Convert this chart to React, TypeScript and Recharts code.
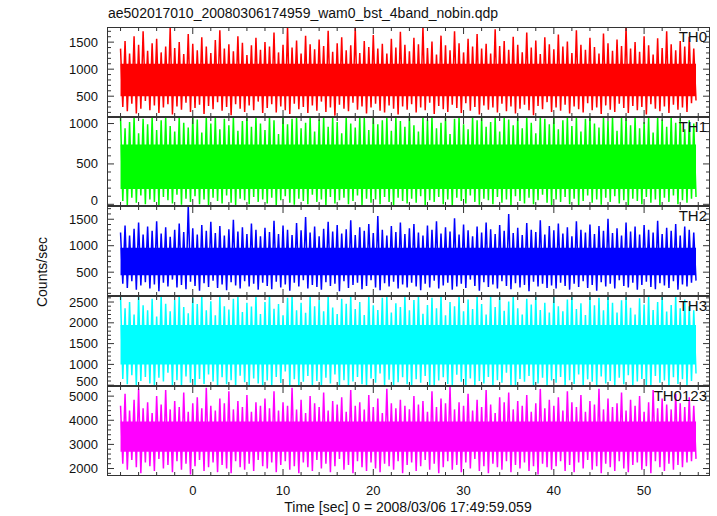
import React from 'react';
import { ComposedChart, Area, Line, XAxis, YAxis } from 'recharts';

// light curve envelopes read per half second from t = -8 s: hi at t, lo at t + 0.25 s
const T_START = -8;
const T_STEP = 0.5;

const th0Hi = [
  1380,1520,1290,1610,1450,1700,1340,1480,1560,1310,1420,1760,1390,1500,1280,1650,1470,1350,1590,1420,1300,1540,1720,1380,1460,1330,1610,1490,1260,1440,1580,1360,
  1500,1420,1680,1310,1450,1780,1400,1530,1290,1620,1460,1370,1550,1430,1710,1320,1480,1590,1350,1440,1760,1300,1520,1410,1630,1380,1470,1290,1560,1400,1690,1450,
  1330,1580,1460,1780,1390,1510,1270,1620,1440,1350,1700,1480,1310,1560,1420,1650,1380,1470,1290,1740,1430,1520,1360,1600,1450,1310,1680,1400,1530,1280,1590,1460,
  1370,1640,1420,1510,1300,1720,1450,1360,1580,1410,1290,1660,1480,1340,1550,1430,1780,1380,1500,1320,1610,1440,1270,1570,1390,1700,1460,1350,1520,1420,1600,1380,
];
const th0Lo = [
  300,220,360,180,270,410,240,330,190,290,350,160,310,250,380,210,280,340,170,320,260,390,230,300,150,350,270,210,330,240,400,190,
  280,350,200,310,240,170,360,260,300,190,330,230,400,210,290,140,340,270,220,380,250,310,180,290,360,230,200,330,270,160,310,250,
  350,200,290,240,380,170,320,260,210,340,280,190,370,230,300,160,330,250,290,200,360,220,310,180,270,340,240,150,320,260,390,210,
  290,230,340,180,310,260,200,370,240,290,170,330,250,210,360,280,190,320,240,300,160,350,270,220,310,190,340,250,290,210,370,420,
];

const th1Hi = [
  1081,940,1020,1081,880,1060,990,1081,920,1040,1081,970,900,1081,1010,950,1081,1050,890,1081,1000,1081,930,1060,980,1081,910,1030,1081,960,1081,1000,
  920,1081,1040,870,1081,990,1060,1081,940,1010,1081,900,1050,1081,960,1081,1020,880,1081,1000,950,1081,1070,920,1081,990,1040,1081,910,1081,1030,960,
  1081,980,900,1081,1050,1081,940,1010,1081,870,1060,1081,990,930,1081,1040,1081,960,1020,1081,900,1081,1050,980,1081,940,1081,1010,880,1081,1060,990,
  1081,930,1040,1081,970,1081,900,1060,1081,1000,950,1081,1030,1081,910,1070,1081,980,1081,940,1020,1081,890,1081,1050,960,1081,1010,1081,930,1040,1000,
];
const th1Lo = [
  40,-10,80,20,110,0,60,30,-15,90,50,10,120,-5,70,30,100,0,60,-20,80,40,10,110,20,-10,70,50,0,90,30,60,
  10,80,-15,50,100,20,-5,70,40,0,120,30,60,-20,90,10,50,80,0,40,110,-10,70,20,60,0,90,30,-15,80,40,10,
  70,20,100,-10,50,30,90,0,60,-20,80,40,10,110,30,-5,70,50,0,90,20,60,-15,100,40,10,80,0,50,120,20,-10,
  60,30,90,0,70,-15,40,110,20,60,-5,80,30,100,10,50,-20,70,40,0,90,20,60,-10,80,30,110,0,50,20,70,90,
];

const th2Hi = [
  1250,1380,1190,1320,1440,1210,1360,1280,1460,1230,1350,1170,1300,1420,1260,1750,1330,1210,1390,1280,1450,1240,1370,1190,1310,1490,1270,1350,1220,1420,1300,1180,
  1340,1260,1470,1220,1380,1300,1200,1430,1290,1540,1250,1360,1180,1320,1450,1270,1390,1230,1310,1480,1200,1350,1280,1410,1240,1560,1300,1190,1370,1260,1440,1220,
  1330,1410,1250,1190,1380,1300,1460,1230,1350,1270,1520,1210,1400,1290,1180,1360,1250,1440,1310,1220,1390,1280,1600,1240,1340,1200,1430,1300,1260,1480,1210,1370,
  1290,1420,1230,1350,1180,1460,1300,1250,1400,1220,1370,1280,1510,1240,1330,1190,1440,1270,1360,1210,1390,1300,1250,1470,1220,1340,1280,1410,1190,1360,1300,1250,
];
const th2Lo = [
  280,200,330,170,250,310,190,270,140,300,230,360,210,260,180,320,240,150,290,220,340,200,270,160,310,250,190,330,230,280,170,300,
  240,180,320,210,270,150,300,230,350,190,260,220,170,310,240,280,140,330,200,260,300,180,240,350,210,160,290,230,320,190,270,210,
  300,230,160,280,210,340,190,250,300,170,230,280,200,360,240,150,310,220,270,190,330,240,180,290,210,260,140,320,230,280,200,250,
  190,300,240,170,280,220,330,200,260,150,310,230,280,190,350,240,210,300,170,260,320,220,180,290,250,200,330,170,270,230,300,340,
];

const th3Hi = [
  2645,2350,2500,2200,2645,2420,2300,2580,2150,2645,2460,2280,2550,2645,2380,2230,2600,2450,2645,2300,2520,2180,2645,2400,2320,2580,2645,2260,2480,2390,2645,2210,
  2500,2645,2340,2450,2180,2600,2645,2300,2480,2240,2645,2400,2550,2280,2645,2370,2210,2580,2460,2645,2330,2500,2190,2645,2420,2310,2600,2645,2250,2470,2380,2645,
  2300,2550,2645,2220,2430,2600,2350,2645,2180,2500,2400,2645,2280,2560,2330,2645,2450,2200,2620,2380,2645,2290,2510,2645,2350,2200,2580,2440,2645,2310,2480,2250,
  2645,2400,2280,2560,2645,2330,2470,2190,2645,2420,2600,2300,2645,2480,2250,2540,2645,2360,2200,2590,2440,2645,2310,2500,2645,2270,2430,2645,2350,2560,2400,2300,
];
const th3Lo = [
  650,520,740,480,600,700,540,480,680,590,800,500,620,480,710,560,480,650,530,760,590,480,690,520,620,480,730,570,500,660,540,480,
  610,480,700,550,830,500,640,480,580,720,490,600,480,680,540,760,500,620,480,590,700,520,480,660,560,780,500,630,480,570,690,520,
  480,640,560,720,500,480,610,690,530,480,750,580,500,660,480,600,540,700,480,620,560,800,500,480,650,580,720,480,540,680,500,610,
  560,700,480,620,530,760,490,640,580,480,710,540,600,480,680,520,740,480,590,650,500,480,720,560,610,480,690,530,640,500,600,780,
];

const th0123Hi = [
  4600,5100,4400,4850,5300,4500,4750,4300,5000,4650,5250,4450,4800,4550,5150,4350,4700,4950,4500,5350,4600,4400,4900,4700,5200,4450,4800,4550,5050,4350,4750,4600,
  4900,4500,5200,4400,4750,4600,5350,4450,4850,4300,5000,4700,4550,5150,4400,4800,4650,4950,4350,5250,4600,4750,4450,5050,4550,4900,4300,5300,4700,4500,4850,4600,
  4450,5000,4650,4800,4350,5200,4550,4900,4700,5380,4450,4750,4600,5100,4400,4850,4550,5250,4650,4300,4950,4750,5150,4450,4800,4600,5050,4350,4700,5300,4500,4850,
  4600,4950,4400,5200,4750,4550,5050,4350,4800,4650,5300,4450,4900,4550,4700,5150,4400,4850,4600,5000,4350,4750,5250,4500,4900,4650,4450,5100,4700,4550,4950,4600,
];
const th0123Lo = [
  2200,1950,2350,2050,1800,2250,2100,1900,2400,2000,2150,1850,2300,1950,2200,1750,2100,2350,1900,2050,2250,1850,2150,2000,1800,2300,2050,1950,2200,1900,2350,2100,
  2000,2250,1850,2150,2300,1950,2100,1800,2250,2050,1900,2350,2000,2200,1850,2100,2400,1950,2150,1800,2300,2050,1900,2250,2000,1850,2200,2100,1950,2300,1800,2150,
  2250,1900,2100,2350,1950,2200,1800,2050,2300,1950,2150,1850,2250,2000,2400,1900,2100,1800,2200,2050,1950,2300,1850,2150,2000,2250,1900,2100,1750,2200,2050,1950,
  2100,2300,1900,2150,1850,2250,2000,2350,1950,2100,1800,2200,2050,1900,2300,2000,1850,2150,2250,1950,2100,1800,2300,2050,1900,2200,1950,2150,2050,2250,2300,2400,
];

// dense core of each band [low, high]
const th0Core = [500, 1100];
const th1Core = [190, 740];
const th2Core = [440, 960];
const th3Core = [1000, 1950];
const th0123Core = [2700, 3950];

const th0Ticks = [500, 1000, 1500];
const th1Ticks = [0, 500, 1000];
const th2Ticks = [500, 1000, 1500];
const th3Ticks = [500, 1000, 1500, 2000, 2500];
const th0123Ticks = [2000, 3000, 4000, 5000];
const timeTicks = [0, 10, 20, 30, 40, 50];

const X_DOMAIN: [number, number] = [-9.5, 57.3];
const W = 717;
const PL = 107;
const PR = 710;
const PAD = 12;
const XLAB = 30;
const FONT = '"Liberation Sans", Arial, sans-serif';

const minorTimeTicks: number[] = [];
for (let t = -8; t <= 56; t += 2) minorTimeTicks.push(t);

interface PanelProps {
  top: number;
  height: number;
  hi: number[];
  lo: number[];
  core: number[];
  domain: [number, number];
  ticks: number[];
  minorStep: number;
  color: string;
  label: string;
  showX?: boolean;
}

const Panel = ({ top, height, hi, lo, core, domain, ticks, minorStep, color, label, showX }: PanelProps) => {
  const data: any[] = [];
  hi.forEach((h, i) => {
    const t = T_START + i * T_STEP;
    data.push({ t, v: h, core });
    if (lo[i] !== undefined) data.push({ t: t + T_STEP / 2, v: lo[i], core });
  });

  const yTicks: number[] = [];
  for (let v = Math.ceil(domain[0] / minorStep) * minorStep; v <= domain[1]; v += minorStep) yTicks.push(v);

  const plotTop = PAD;
  const plotBottom = PAD + height;
  const extra = showX ? XLAB : 0;
  const chartH = height + PAD * 2 + extra;

  const YTick = (props: any) => {
    const { y, payload } = props;
    const major = ticks.includes(payload.value);
    const len = major ? 7 : 4;
    // labels sitting on a panel edge are nudged inward so neighbours don't collide
    let dy = 4.5;
    if (y > plotBottom - 4) dy = 1;
    if (y < plotTop + 4) dy = 6;
    return (
      <g>
        <line x1={PL} x2={PL + len} y1={y} y2={y} stroke="#333" strokeWidth={1} />
        <line x1={PR - len} x2={PR} y1={y} y2={y} stroke="#333" strokeWidth={1} />
        {major && (
          <text x={PL - 9} y={y} dy={dy} textAnchor="end" fontSize={13} fontFamily={FONT} fill="#111">
            {payload.value}
          </text>
        )}
      </g>
    );
  };

  const XTick = (props: any) => {
    const { x, payload } = props;
    const major = payload.value % 10 === 0;
    const len = major ? 7 : 4;
    return (
      <g>
        <line x1={x} x2={x} y1={plotTop} y2={plotTop + len} stroke="#333" strokeWidth={1} />
        <line x1={x} x2={x} y1={plotBottom - len} y2={plotBottom} stroke="#333" strokeWidth={1} />
        {showX && timeTicks.includes(payload.value) && (
          <text x={x} y={plotBottom + 19} textAnchor="middle" fontSize={13} fontFamily={FONT} fill="#111">
            {payload.value}
          </text>
        )}
      </g>
    );
  };

  return (
    <div style={{ position: 'absolute', left: 0, top: top - PAD, width: W, height: chartH }}>
      <ComposedChart
        width={W}
        height={chartH}
        data={data}
        margin={{ top: PAD, right: W - PR, bottom: 0, left: 0 }}
      >
        <XAxis
          dataKey="t"
          type="number"
          domain={X_DOMAIN}
          allowDataOverflow
          ticks={minorTimeTicks}
          interval={0}
          tick={<XTick />}
          tickLine={false}
          axisLine={false}
          height={PAD + extra}
        />
        <YAxis
          type="number"
          domain={domain}
          allowDataOverflow
          ticks={yTicks}
          interval={0}
          tick={<YTick />}
          tickLine={false}
          axisLine={false}
          width={PL}
        />
        <Area dataKey="core" type="linear" stroke="none" fill={color} fillOpacity={1} isAnimationActive={false} />
        <Line dataKey="v" type="linear" stroke={color} strokeWidth={1.5} dot={false} isAnimationActive={false} />
      </ComposedChart>
      <div
        style={{
          position: 'absolute',
          left: PL,
          top: PAD,
          width: PR - PL,
          height: height,
          boxSizing: 'border-box',
          border: '1.5px solid #333',
          pointerEvents: 'none',
        }}
      />
      <div
        style={{
          position: 'absolute',
          right: W - PR + 3,
          top: PAD + 1,
          fontFamily: FONT,
          fontSize: 15,
          color: '#111',
          lineHeight: '18px',
        }}
      >
        {label}
      </div>
    </div>
  );
};

export default function App() {
  return (
    <div style={{ position: 'absolute', left: 0, top: 0, width: W, height: 516, background: '#fff', overflow: 'hidden' }}>
      <div style={{ position: 'absolute', left: 108, top: 5, fontFamily: FONT, fontSize: 14, color: '#111' }}>
        ae502017010_20080306174959_wam0_bst_4band_nobin.qdp
      </div>
      <Panel top={27} height={90} hi={th0Hi} lo={th0Lo} core={th0Core} domain={[115, 1780]} ticks={th0Ticks} minorStep={100} color="#ff0000" label="TH0" />
      <Panel top={117} height={89} hi={th1Hi} lo={th1Lo} core={th1Core} domain={[-21, 1081]} ticks={th1Ticks} minorStep={100} color="#00ff00" label="TH1" />
      <Panel top={206} height={90} hi={th2Hi} lo={th2Lo} core={th2Core} domain={[50, 1750]} ticks={th2Ticks} minorStep={100} color="#0000ff" label="TH2" />
      <Panel top={296} height={90} hi={th3Hi} lo={th3Lo} core={th3Core} domain={[480, 2645]} ticks={th3Ticks} minorStep={100} color="#00ffff" label="TH3" />
      <Panel top={386} height={90} hi={th0123Hi} lo={th0123Lo} core={th0123Core} domain={[1690, 5420]} ticks={th0123Ticks} minorStep={200} color="#ff00ff" label="TH0123" showX />
      <div
        style={{
          position: 'absolute',
          left: 42,
          top: 272,
          transform: 'translate(-50%, -50%) rotate(-90deg)',
          fontFamily: FONT,
          fontSize: 14,
          color: '#111',
          whiteSpace: 'nowrap',
        }}
      >
        Counts/sec
      </div>
      <div
        style={{
          position: 'absolute',
          left: 408,
          top: 499,
          transform: 'translateX(-50%)',
          fontFamily: FONT,
          fontSize: 14,
          color: '#111',
          whiteSpace: 'nowrap',
        }}
      >
        Time [sec] 0 = 2008/03/06 17:49:59.059
      </div>
    </div>
  );
}
